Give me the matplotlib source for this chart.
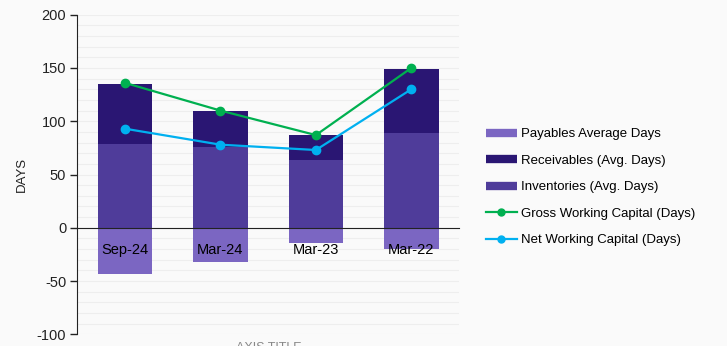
import matplotlib.pyplot as plt
from matplotlib.lines import Line2D
import numpy as np

plt.rcParams["font.family"] = ["Liberation Sans", "DejaVu Sans"]
plt.rcParams["axes.unicode_minus"] = False

periods = ["Sep-24", "Mar-24", "Mar-23", "Mar-22"]
inventory_days = [79, 76, 64, 89]
receivable_days = [56, 34, 23, 60]
payable_days = [-43, -32, -14, -20]
gross_wc_days = [136, 110, 87, 150]
net_wc_days = [93, 78, 73, 130]

C_PAY = "#7B66C2"
C_REC = "#2A1673"
C_INV = "#4F3C9A"
C_GROSS = "#00B050"
C_NET = "#00B0F0"

fig = plt.figure(figsize=(7.27, 3.46), dpi=100, facecolor="#FAFAFA")
ax = fig.add_axes([0.1063, 0.0338, 0.5251, 0.9237], facecolor="#FAFAFA")

x = np.arange(len(periods))
w = 0.57
ax.bar(x, payable_days, w, color=C_PAY, zorder=2)
ax.bar(x, inventory_days, w, color=C_INV, zorder=2)
ax.bar(x, receivable_days, w, bottom=inventory_days, color=C_REC, zorder=2)
ax.plot(x, gross_wc_days, color=C_GROSS, lw=1.6, marker="o", ms=6, zorder=3)
ax.plot(x, net_wc_days, color=C_NET, lw=1.6, marker="o", ms=6, zorder=3)

ax.set_xlim(-0.5, 3.5)
ax.set_ylim(-100, 200)
ax.set_yticks(range(-100, 201, 50))
ax.set_yticks(range(-100, 201, 10), minor=True)
ax.yaxis.grid(True, which="both", color="#EEEEEE", lw=0.8, zorder=0)
ax.tick_params(axis="y", which="minor", length=0)
ax.tick_params(axis="y", which="major", length=5, width=1, color="#222222",
               labelsize=10.5, labelcolor="#222222", pad=3)

for side in ["top", "right"]:
    ax.spines[side].set_visible(False)
ax.spines["left"].set_color("#222222")
ax.spines["bottom"].set_position(("data", 0))
ax.spines["bottom"].set_color("#222222")
ax.spines["bottom"].set_zorder(4)

# category labels sit on the zero line, drawn over the negative bars
ax.set_xticks(x)
ax.set_xticklabels(periods)
ax.tick_params(axis="x", length=0, labelsize=10.5, pad=11, labelcolor="black")
ax.xaxis.set_zorder(5)

ax.set_ylabel("DAYS", fontsize=9.5, color="#222222", labelpad=6)
fig.text(0.369, 0.012, "AXIS TITLE", ha="center", va="top",
         fontsize=9, color="#888888")

handles = [
    Line2D([], [], color=C_PAY, lw=6, solid_capstyle="butt"),
    Line2D([], [], color=C_REC, lw=6, solid_capstyle="butt"),
    Line2D([], [], color=C_INV, lw=6, solid_capstyle="butt"),
    Line2D([], [], color=C_GROSS, lw=1.6, marker="o", ms=5),
    Line2D([], [], color=C_NET, lw=1.6, marker="o", ms=5),
]
labels = ["Payables Average Days", "Receivables (Avg. Days)",
          "Inventories (Avg. Days)", "Gross Working Capital (Days)",
          "Net Working Capital (Days)"]
fig.legend(handles, labels, loc="upper left", bbox_to_anchor=(0.668, 0.63),
           frameon=False, fontsize=9.5, handlelength=2.4, handletextpad=0.3,
           labelspacing=1.08, borderaxespad=0, borderpad=0)

fig.savefig("out.png", dpi=100, facecolor=fig.get_facecolor())
